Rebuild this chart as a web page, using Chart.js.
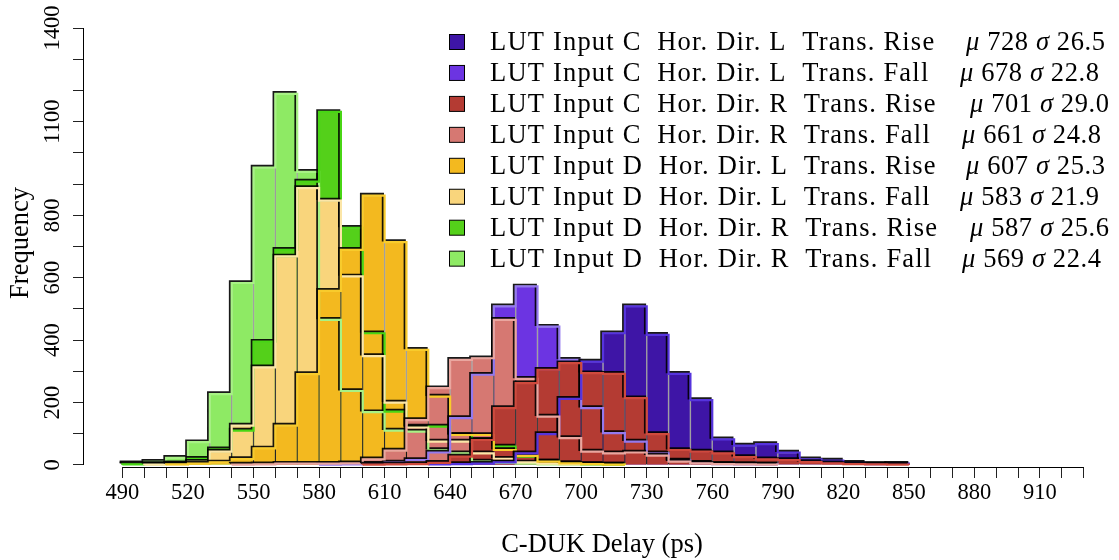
<!DOCTYPE html>
<html>
<head>
<meta charset="utf-8">
<script src="https://cdn.jsdelivr.net/npm/chart.js@4.4.1/dist/chart.umd.min.js"></script>
<style>
  html, body { margin: 0; padding: 0; background: #ffffff; }
  #wrap { width: 1119px; height: 560px; }
</style>
</head>
<body>
<div id="wrap"><canvas id="c" width="1119" height="560"></canvas></div>
<script>
// Histogram bins: left edges in ps, 10 ps wide
const binStarts = [490,500,510,520,530,540,550,560,570,580,590,600,610,620,630,640,650,660,
                   670,680,690,700,710,720,730,740,750,760,770,780,790,800,810,820,830,840];
const binWidth = 10;

// Counts per bin for each LUT input / direction / transition
const cLRise = [0,0,0,0,0,0,0,0,0,0,0,0,0,0,2,3,4,8,37,99,212,331,422,508,417,292,208,82,62,67,40,18,14,7,3,4];
const cLFall = [0,0,0,0,0,0,0,0,0,1,2,4,8,16,40,150,289,508,572,443,337,182,102,75,37,14,7,3,2,1,0,0,0,0,0,0];
const cRRise = [0,0,0,0,0,0,0,0,0,0,0,1,2,3,7,27,80,182,262,305,326,294,292,214,99,48,43,37,25,18,16,9,5,3,2,1];
const cRFall = [0,0,0,0,0,1,2,4,4,4,5,18,46,144,246,337,342,465,276,155,86,43,37,40,30,11,5,3,2,1,0,0,0,0,0,0];
const dLRise = [0,0,2,4,8,19,53,126,291,558,689,863,714,369,219,96,96,48,29,11,5,3,1,0,0,0,0,0,0,0,0,0,0,0,0,0];
const dLFall = [0,1,2,10,43,126,313,668,887,847,604,349,200,120,75,75,37,20,8,4,2,0,0,0,0,0,0,0,0,0,0,0,0,0,0,0];
const dRRise = [2,3,5,20,50,110,395,689,908,1131,760,422,171,123,123,96,80,59,27,11,5,2,1,0,0,0,0,0,0,0,0,0,0,0,0,0];
const dRFall = [5,10,23,73,227,583,953,1189,939,465,237,169,110,107,48,37,11,7,4,2,1,0,0,0,0,0,0,0,0,0,0,0,0,0,0,0];

const seriesLabels = [
  'LUT Input C  Hor. Dir. L  Trans. Rise',
  'LUT Input C  Hor. Dir. L  Trans. Fall',
  'LUT Input C  Hor. Dir. R  Trans. Rise',
  'LUT Input C  Hor. Dir. R  Trans. Fall',
  'LUT Input D  Hor. Dir. L  Trans. Rise',
  'LUT Input D  Hor. Dir. L  Trans. Fall',
  'LUT Input D  Hor. Dir. R  Trans. Rise',
  'LUT Input D  Hor. Dir. R  Trans. Fall'
];
const seriesMeans = [728, 678, 701, 661, 607, 583, 587, 569];
const seriesSigmas = [26.5, 22.8, 29.0, 24.8, 25.3, 21.9, 25.6, 22.4];

// Axis ticks
const xTickValues = [490,500,510,520,530,540,550,560,570,580,590,600,610,620,630,640,650,660,670,680,
                     690,700,710,720,730,740,750,760,770,780,790,800,810,820,830,840,850,860,870,880,
                     890,900,910,920,930];
const xLabelValues = [490,520,550,580,610,640,670,700,730,760,790,820,850,880,910];
const yTickValues = [0,100,200,300,400,500,600,700,800,900,1000,1100,1200,1300,1400];
const yLabelValues = [0,200,400,600,800,1100,1400];

const seriesCounts = [cLRise, cLFall, cRRise, cRFall, dLRise, dLFall, dRRise, dRFall];
const fillColors = ['#3E15A6','#6C34E2','#B43B33','#D67872','#F3B91F','#F9D57C','#54D01A','#8EEA64'];
const edgeColors = ['#5634DD','#9479EE','#CF4A3D','#EAA69F','#F8CB2C','#FCE6A8','#48D614','#A8F285'];
// stacking position of each histogram, 0 = painted first (back)
const paintRank = [5, 4, 7, 6, 3, 2, 1, 0];

const SERIF = '"Liberation Serif", "DejaVu Serif", serif';

function barPoints(vals) {
  return vals.map((v, i) => ({ x: binStarts[i] + binWidth / 2, y: v }));
}
function stepOutline(vals) {
  let first = vals.findIndex(v => v > 0);
  let last = vals.length - 1;
  while (last > 0 && vals[last] === 0) last--;
  const pts = [{ x: binStarts[first], y: 0 }];
  for (let i = first; i <= last; i++) {
    pts.push({ x: binStarts[i], y: vals[i] });
    pts.push({ x: binStarts[i] + binWidth, y: vals[i] });
  }
  pts.push({ x: binStarts[last] + binWidth, y: 0 });
  return pts;
}

const datasets = [];
seriesCounts.forEach((vals, s) => {
  datasets.push({
    type: 'bar',
    label: seriesLabels[s],
    data: barPoints(vals),
    backgroundColor: fillColors[s],
    borderColor: 'rgba(0,0,0,0.3)',
    borderWidth: 1,
    barPercentage: 1,
    categoryPercentage: 1,
    grouped: false,
    order: 30 - paintRank[s]
  });
});
seriesCounts.forEach((vals, s) => {
  datasets.push({
    type: 'line',
    label: seriesLabels[s] + ' outline',
    data: stepOutline(vals),
    borderColor: edgeColors[s],
    borderWidth: 2.2,
    pointRadius: 0,
    fill: false,
    tension: 0,
    isOutline: true,
    order: 10 - paintRank[s]
  });
});

// Dark drop edge under each histogram outline
const outlineShadow = {
  id: 'outlineShadow',
  beforeDatasetDraw(chart, args) {
    if (!chart.data.datasets[args.index].isOutline) return;
    const c = chart.ctx;
    c.save();
    c.shadowColor = 'rgba(0,0,0,0.9)';
    c.shadowOffsetX = -1.7;
    c.shadowOffsetY = -1.7;
    c.shadowBlur = 0;
  },
  afterDatasetDraw(chart, args) {
    if (!chart.data.datasets[args.index].isOutline) return;
    chart.ctx.restore();
  }
};

// Axis lines, rotated y labels, titles and the key
const decorations = {
  id: 'decorations',
  afterDraw(chart) {
    const c = chart.ctx;
    const xs = chart.scales.x, ys = chart.scales.y;
    c.save();
    c.strokeStyle = '#000';
    c.lineWidth = 1;
    // x axis line
    const ax = Math.round(chart.chartArea.bottom) + 0.5;
    c.beginPath();
    c.moveTo(xs.getPixelForValue(xTickValues[0]), ax);
    c.lineTo(xs.getPixelForValue(xTickValues[xTickValues.length - 1]), ax);
    c.stroke();
    // y axis line
    const ay = Math.round(chart.chartArea.left) - 0.5;
    c.beginPath();
    c.moveTo(ay, ys.getPixelForValue(yTickValues[0]));
    c.lineTo(ay, ys.getPixelForValue(yTickValues[yTickValues.length - 1]));
    c.stroke();

    c.fillStyle = '#000';
    // y tick labels, reading upward
    c.font = '22.5px ' + SERIF;
    c.textAlign = 'center';
    c.textBaseline = 'middle';
    yLabelValues.forEach(v => {
      c.save();
      c.translate(53, ys.getPixelForValue(v));
      c.rotate(-Math.PI / 2);
      c.fillText(String(v), 0, 0);
      c.restore();
    });
    // axis titles
    c.font = '26.5px ' + SERIF;
    c.fillText('C-DUK Delay (ps)', 602, 545);
    c.save();
    c.translate(21, 243);
    c.rotate(-Math.PI / 2);
    c.fillText('Frequency', 0, 0);
    c.restore();

    // key
    const statX = [966, 960, 970, 962, 966, 960, 970, 962];
    c.textAlign = 'left';
    c.textBaseline = 'middle';
    for (let i = 0; i < seriesLabels.length; i++) {
      const y = 42 + i * 30.95;
      c.fillStyle = fillColors[i];
      c.fillRect(449.5, y - 7.5, 15, 15);
      c.strokeStyle = '#000';
      c.lineWidth = 1;
      c.strokeRect(449.5, y - 7.5, 15, 15);
      c.fillStyle = '#000';
      c.font = '26.5px ' + SERIF;
      c.letterSpacing = '1.2px';
      c.fillText(seriesLabels[i], 490, y + 1);
      let x = statX[i];
      const parts = [
        ['italic ', '\u03bc'], ['', ' ' + seriesMeans[i] + ' '],
        ['italic ', '\u03c3'], ['', ' ' + seriesSigmas[i].toFixed(1)]
      ];
      c.letterSpacing = '0.6px';
      parts.forEach(([style, txt]) => {
        c.font = style + '26.5px ' + SERIF;
        c.fillText(txt, x, y + 1);
        x += c.measureText(txt).width;
      });
    }
    c.restore();
  }
};

new Chart(document.getElementById('c'), {
  type: 'bar',
  data: { datasets },
  options: {
    responsive: false,
    animation: false,
    devicePixelRatio: 1,
    layout: { padding: { top: 28, left: 0, right: 0, bottom: 0 } },
    plugins: { legend: { display: false }, tooltip: { enabled: false } },
    scales: {
      x: {
        type: 'linear',
        offset: false,
        min: 472.4,
        max: 946.2,
        border: { display: false },
        grid: { offset: false, drawOnChartArea: false, drawTicks: true, tickLength: 11, color: '#222', lineWidth: 1 },
        afterBuildTicks: s => { s.ticks = xTickValues.map(v => ({ value: v })); },
        afterFit: s => { s.height = 93; },
        ticks: {
          autoSkip: false, maxRotation: 0, minRotation: 0, padding: 2, color: '#000',
          font: { family: SERIF, size: 22.5 },
          callback: v => (xLabelValues.includes(v) ? String(v) : '')
        }
      },
      y: {
        type: 'linear',
        min: -6.5,
        max: 1400,
        border: { display: false },
        grid: { drawOnChartArea: false, drawTicks: true, tickLength: 11, color: '#222', lineWidth: 1 },
        afterBuildTicks: s => { s.ticks = yTickValues.map(v => ({ value: v })); },
        afterFit: s => { s.width = 84; },
        ticks: { display: false }
      }
    }
  },
  plugins: [outlineShadow, decorations]
});
</script>
</body>
</html>
